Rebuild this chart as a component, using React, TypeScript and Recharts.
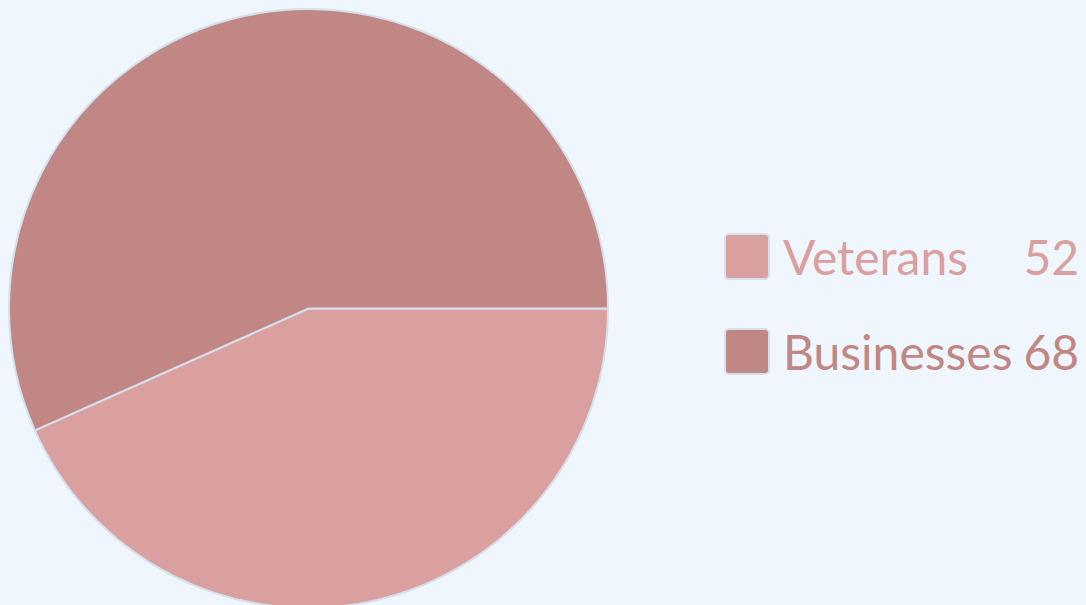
import { PieChart, Pie, Cell, Legend } from "recharts";

const categories = ["Veterans", "Businesses"];
const values = [52, 68];
const colors = ["#daa09f", "#c18785"];

const data = categories.map((name, i) => ({ name, value: values[i] }));

const renderLegend = () => (
  <div
    style={{
      display: "grid",
      gridTemplateColumns: "46px auto auto",
      justifyContent: "start",
      rowGap: 48,
      alignItems: "center",
      fontFamily: "Lato, sans-serif",
      fontSize: 48,
    }}
  >
    {data.map((d, i) => (
      <div key={d.name} style={{ display: "contents" }}>
        <div
          style={{
            width: 42,
            height: 43,
            borderRadius: 5,
            border: "2px solid #d5e0ec",
            background: colors[i],
          }}
        />
        <span style={{ color: colors[i], lineHeight: "46px", marginLeft: 13 }}>
          {d.name}
        </span>
        <span
          style={{
            color: colors[i],
            lineHeight: "46px",
            textAlign: "right",
            marginLeft: 11,
          }}
        >
          {d.value}
        </span>
      </div>
    ))}
  </div>
);

export default function App() {
  return (
    <div
      style={{
        position: "fixed",
        left: 0,
        top: 0,
        width: 1086,
        height: 605,
        background: "#eff6fd",
        overflow: "hidden",
      }}
    >
      <PieChart
        width={1086}
        height={605}
        margin={{ top: 0, right: 0, bottom: 0, left: 0 }}
      >
        <Pie
          data={data}
          dataKey="value"
          nameKey="name"
          cx={308.5}
          cy={308.5}
          outerRadius={299.5}
          startAngle={0}
          endAngle={-360}
          stroke="#d5e0ec"
          strokeWidth={2}
          isAnimationActive={false}
        >
          {data.map((d, i) => (
            <Cell key={d.name} fill={colors[i]} />
          ))}
        </Pie>
        <Legend
          layout="vertical"
          align="right"
          verticalAlign="middle"
          content={renderLegend}
          wrapperStyle={{ left: 724, top: 233, width: 362 }}
        />
      </PieChart>
    </div>
  );
}
